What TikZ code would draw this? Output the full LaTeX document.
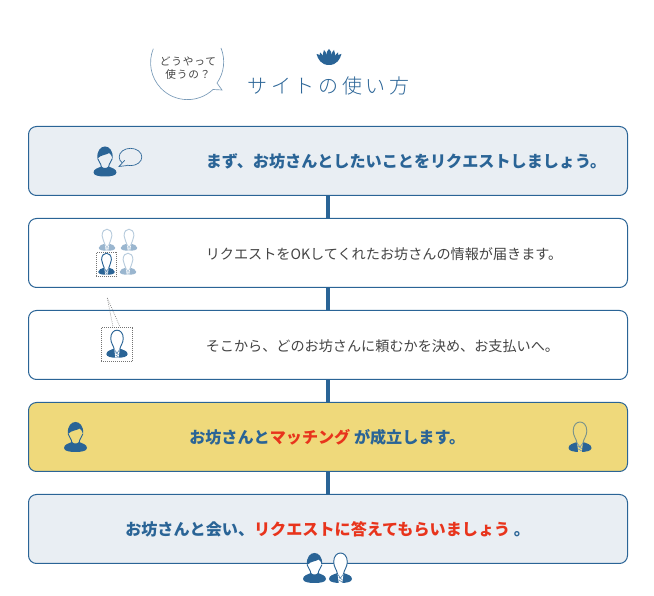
\documentclass[tikz,border=0pt]{standalone}
\usepackage{fontspec}
\usepackage{tikz}
\usetikzlibrary{shapes.geometric, positioning, calc}
\setmainfont{Noto Sans CJK JP}
\newfontfamily\titlefont[LetterSpace=18]{Noto Sans CJK JP Light}
\newfontfamily\askfont[LetterSpace=8]{Noto Sans CJK JP}
\definecolor{sitblue}{HTML}{2A6496}
\definecolor{sitpale}{HTML}{E9EEF3}
\definecolor{sityellow}{HTML}{EFD97B}
\definecolor{sitred}{HTML}{E8341C}
\definecolor{sitgray}{HTML}{444444}
\definecolor{sitline}{HTML}{7A9BB8}
\definecolor{sitfade}{HTML}{9AB6CF}

\tikzset{
    pics/hairman/.style 2 args={code={
        \fill[#2] (-7,3) .. controls (-4,7) and (2,6.5) .. (4,8.5) .. controls (6,7.5) and (7,6) .. (7,3) .. controls (7,0) and (4,-1) .. (3.5,-5) -- (-3.5,-5) .. controls (-4,-1) and (-7,0) .. (-7,3) -- cycle;
        \fill[#1] (-7.5,3) .. controls (-8.5,11) and (-4,15) .. (0,15) .. controls (4,15) and (8.5,11) .. (7.5,3) .. controls (7,6) and (5.5,7.5) .. (4,8.5) .. controls (2,6.5) and (-4,7) .. (-7.5,3) -- cycle;
        \draw[#1, line width=0.7pt] (-7.3,3) .. controls (-7,0) and (-4,-1) .. (-3.5,-6);
        \draw[#1, line width=0.7pt] (7.3,3) .. controls (7,0) and (4,-1) .. (3.5,-6);
        \fill[#1] (-11.5,-11) .. controls (-11.5,-7.5) and (-7,-6.5) .. (-3.5,-5) .. controls (-2,-7) and (2,-7) .. (3.5,-5) .. controls (7,-6.5) and (11.5,-7.5) .. (11.5,-11) .. controls (11.5,-14) and (6,-15) .. (0,-15) .. controls (-6,-15) and (-11.5,-14) .. (-11.5,-11) -- cycle;
    }},
    pics/suitman/.style n args={3}{code={
        \fill[#1] (-11.5,-11) .. controls (-11.5,-7.5) and (-7,-6.5) .. (-3,-5) -- (3,-5) .. controls (7,-6.5) and (11.5,-7.5) .. (11.5,-11) .. controls (11.5,-14) and (6,-15) .. (0,-15) .. controls (-6,-15) and (-11.5,-14) .. (-11.5,-11) -- cycle;
        \fill[#3] (-3,-5) -- (-1.8,-14.8) -- (1.8,-14.8) -- (3,-5) -- cycle;
        \draw[#2, fill=#3, line width=0.7pt] (-3,-6) .. controls (-3.5,-2) and (-6.8,1) .. (-6.8,6) .. controls (-6.8,12) and (-3.5,15) .. (0,15) .. controls (3.5,15) and (6.8,12) .. (6.8,6) .. controls (6.8,1) and (3.5,-2) .. (3,-6);
        \draw[#1!70!white, line width=0.5pt] (-3,-6) -- (0,-10) -- (3,-6) (-1.6,-9.5) -- (1.6,-11.5) (-1.6,-12) -- (1.6,-14);
    }},
    pics/lotus/.style={code={
        \fill[#1] (-12.5,3) .. controls (-11,-2) and (-8,-8) .. (0,-8) .. controls (8,-8) and (11,-2) .. (12.5,3) .. controls (9,2.5) and (5,0) .. (0,-1) .. controls (-5,0) and (-9,2.5) .. (-12.5,3) -- cycle;
        \fill[#1] (0,8) .. controls (3.5,5) and (3.5,0) .. (0,-4) .. controls (-3.5,0) and (-3.5,5) .. (0,8) -- cycle;
        \fill[#1] (-5,7) .. controls (-2.5,5) and (-1.5,0) .. (-0.6,-4) .. controls (-5,-4) and (-8,1) .. (-5,7) -- cycle;
        \fill[#1] (5,7) .. controls (2.5,5) and (1.5,0) .. (0.6,-4) .. controls (5,-4) and (8,1) .. (5,7) -- cycle;
        \fill[#1] (-9,4.5) .. controls (-7,3) and (-4,-1) .. (-2,-5) .. controls (-7,-5) and (-10,-1) .. (-9,4.5) -- cycle;
        \fill[#1] (9,4.5) .. controls (7,3) and (4,-1) .. (2,-5) .. controls (7,-5) and (10,-1) .. (9,4.5) -- cycle;
    }}
}

\begin{document}
\begin{tikzpicture}[
    x=0.75pt, y=0.75pt,
    font=\fontsize{10.6pt}{13pt}\selectfont,
    node distance=17.25pt,
    rowbox/.style={draw=sitblue, rounded corners=6pt, minimum width=449.25pt, minimum height=51.75pt, line width=0.75pt, outer sep=0pt},
    palebox/.style={rowbox, fill=sitpale},
    plainbox/.style={rowbox, fill=white},
    goldbox/.style={rowbox, fill=sityellow},
    stem/.style={draw=sitblue, line width=3.2pt},
    rowtext/.style={text=sitgray, inner sep=0pt},
    boldtext/.style={text=sitblue, inner sep=0pt, font=\fontsize{12.08pt}{14pt}\selectfont\bfseries},
    dotbox/.style={draw=black!55, densely dotted, line width=0.5pt, inner sep=0pt}
]
    \useasboundingbox (0,0) rectangle (654,596);

    % boxes
    \node (want) [palebox] at (328,435) {};
    \node (reply) [plainbox, below=of want] {};
    \node (choose) [plainbox, below=of reply] {};
    \node (match) [goldbox, below=of choose] {};
    \node (meet) [palebox, below=of match] {};

    \draw[stem] (want) -- (reply);
    \draw[stem] (reply) -- (choose);
    \draw[stem] (choose) -- (match);
    \draw[stem] (match) -- (meet);

    % title
    \pic at (329,539) {lotus=sitblue};
    \node (title) [inner sep=0pt, text=sitblue, font=\fontsize{15pt}{18pt}\titlefont] at (328.5,510) {サイトの使い方};

    \draw[sitline, line width=0.5pt] (221,548) arc[start angle=22, end angle=-35, radius=37] -- (222,506) -- (213,506.5) arc[start angle=-46.6, end angle=-202, radius=37];
    \node (ask) [inner sep=0pt, align=center, text=sitgray, font=\fontsize{8pt}{9.8pt}\askfont] at (188,528) {どうやって\\使うの？};

    % row texts
    \node (wanttext) [boldtext, anchor=west] at ($(want.west)+(177,-0.7)$) {まず、お坊さんとしたいことをリクエストしましょう。};
    \node (replytext) [rowtext, anchor=west] at ($(reply.west)+(177,-0.7)$) {リクエストをOKしてくれたお坊さんの情報が届きます。};
    \node (choosetext) [rowtext, anchor=west] at ($(choose.west)+(177,-0.7)$) {そこから、どのお坊さんに頼むかを決め、お支払いへ。};
    \node (matchtext) [boldtext, anchor=west] at ($(match.west)+(160.5,-0.7)$) {お坊さんと\textcolor{sitred}{マッチング} が成立します。};
    \node (meettext) [boldtext, anchor=west] at ($(meet.west)+(96.5,-0.7)$) {お坊さんと会い、\textcolor{sitred}{リクエストに答えてもらいましょう} 。};

    % people
    \pic at (105,434.5) {hairman={sitblue}{sitpale}};
    \node (saybubble) [draw=sitblue, ellipse, line width=0.5pt, fill=sitpale, minimum width=17pt, minimum height=13pt, inner sep=0pt] at (130.5,439) {};
    \draw[sitblue, line width=0.5pt, fill=sitpale] ($(saybubble.south west)+(2.5,3)$) -- (119,429.5) -- ($(saybubble.south)+(-3,0.5)$);

    \pic[scale=0.72] at (107,356) {suitman={sitfade}{sitfade!70!white}{white}};
    \pic[scale=0.72] at (129,356) {suitman={sitfade}{sitfade!70!white}{white}};
    \pic[scale=0.72] at (106.5,332) {suitman={sitblue}{sitblue}{white}};
    \pic[scale=0.72] at (128,332) {suitman={sitfade}{sitfade!70!white}{white}};
    \node (pickbox) [dotbox, minimum width=15.3pt, minimum height=18.3pt] at (106.5,331.5) {};

    \pic[scale=0.92] at (117,252) {suitman={sitblue}{sitblue}{white}};
    \node (zoombox) [dotbox, minimum width=23.5pt, minimum height=26pt] at (117,251.5) {};
    \coordinate (zoomtip) at (107.3,298);
    \draw[black!55, densely dotted, line width=0.5pt] (zoomtip) -- ([xshift=-3pt]zoombox.north);
    \draw[black!55, densely dotted, line width=0.5pt] (zoomtip) -- ([xshift=2.25pt]zoombox.north);

    \pic at (75.5,159) {hairman={sitblue}{sityellow}};
    \pic at (580,159) {suitman={sitblue}{sitblue!60!sityellow}{sityellow}};

    \pic at (314.5,28) {hairman={sitblue}{white}};
    \pic at (340.5,28) {suitman={sitblue}{sitblue}{white}};
\end{tikzpicture}
\end{document}
